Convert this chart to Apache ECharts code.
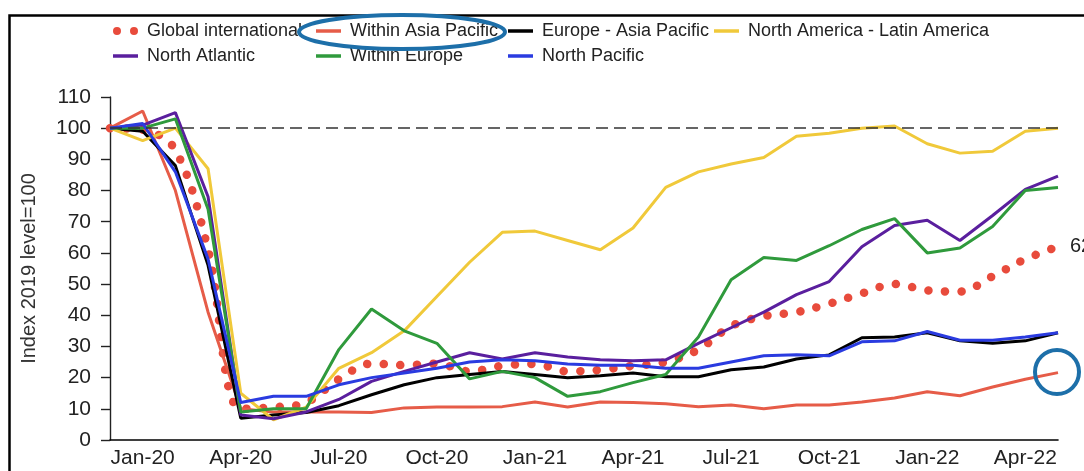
<!DOCTYPE html>
<html>
<head>
<meta charset="utf-8">
<script src="https://cdn.jsdelivr.net/npm/echarts/dist/echarts.min.js"></script>
<style>
html,body{margin:0;padding:0;background:#fff;}
#chart{width:1084px;height:471px;}
</style>
</head>
<body>
<div id="chart"></div>
<script>
const categories = ['Dec-19','Jan-20','Feb-20','Mar-20','Apr-20','May-20','Jun-20','Jul-20','Aug-20','Sep-20','Oct-20','Nov-20','Dec-20','Jan-21','Feb-21','Mar-21','Apr-21','May-21','Jun-21','Jul-21','Aug-21','Sep-21','Oct-21','Nov-21','Dec-21','Jan-22','Feb-22','Mar-22','Apr-22','May-22'];

const globalIntl = [100, 99.5, 93, 61, 10, 10.5, 12, 19.5, 24.5, 24, 24.5, 22, 23.8, 24.4, 22, 22.5, 23.8, 25, 29, 36.5, 39.7, 41, 43.7, 47, 50, 48, 47.6, 52.5, 58, 62];
const withinAsiaPacific = [100, 105.5, 80, 41, 10, 9, 9, 9, 8.8, 10.3, 10.6, 10.6, 10.7, 12.2, 10.6, 12.2, 12, 11.6, 10.7, 11.2, 10, 11.2, 11.2, 12.2, 13.5, 15.5, 14.2, 17, 19.5, 21.6];
const europeAsiaPacific = [100, 99, 88, 56, 7, 8, 8.8, 11, 14.5, 17.7, 20, 21, 22, 21, 20, 20.6, 21.5, 20.3, 20.3, 22.5, 23.4, 26, 27.3, 32.8, 33, 34.4, 31.8, 31, 31.8, 34.4];
const northAmericaLatinAmerica = [100, 96, 100, 87, 15, 6.5, 10.5, 23, 28, 35, 46, 57, 66.6, 67, 64, 61, 68, 81, 86, 88.5, 90.6, 97.4, 98.4, 100, 100.7, 95, 92, 92.6, 99, 100];
const northAtlantic = [100, 101, 105, 78, 8, 6.8, 9, 13, 18.8, 22, 25, 28, 26, 28, 26.6, 25.7, 25.4, 25.7, 31, 36, 41, 46.6, 50.8, 62, 68.8, 70.5, 64, 72, 80.4, 84.6];
const withinEurope = [100, 100, 103, 74, 9, 10, 10, 29, 42, 35, 31, 19.6, 22, 20, 14, 15.5, 18.4, 21, 33, 51.4, 58.5, 57.6, 62.3, 67.5, 71, 60, 61.6, 68.5, 80, 81];
const northPacific = [100, 101.5, 86, 58, 12, 14, 14, 17.7, 20, 21.5, 23, 25, 25.7, 25.4, 24.4, 24, 24, 23, 23, 25, 27, 27.3, 27, 31.5, 31.8, 34.8, 32, 32, 33, 34.4];

const yTicks = {min: 0, max: 110, interval: 10};
const baseline = 100;
const yAxisTitle = 'Index 2019 level=100';

const FONT = '"Liberation Sans", Arial, sans-serif';

const lineSeries = [
  {name: 'Within Asia Pacific', data: withinAsiaPacific, color: '#e65c48'},
  {name: 'Europe - Asia Pacific', data: europeAsiaPacific, color: '#000000'},
  {name: 'North America - Latin America', data: northAmericaLatinAmerica, color: '#f0c93a'},
  {name: 'North Atlantic', data: northAtlantic, color: '#5a1f9e'},
  {name: 'Within Europe', data: withinEurope, color: '#2f9a3c'},
  {name: 'North Pacific', data: northPacific, color: '#2a3be0'}
];

const dotsIcon = 'path://M0,4A4,4 0 1,1 8,4A4,4 0 1,1 0,4Z M17,4A4,4 0 1,1 25,4A4,4 0 1,1 17,4Z';

const legendPos = [
  {name: 'Global international', left: 113, top: 22, dots: true},
  {name: 'Within Asia Pacific', left: 316, top: 22},
  {name: 'Europe - Asia Pacific', left: 508, top: 22},
  {name: 'North America - Latin America', left: 714, top: 22},
  {name: 'North Atlantic', left: 113, top: 47},
  {name: 'Within Europe', left: 316, top: 47},
  {name: 'North Pacific', left: 508, top: 47}
];

const legends = legendPos.map(l => ({
  data: [l.name],
  left: l.left,
  top: l.top,
  padding: 0,
  itemWidth: 25,
  itemHeight: l.dots ? 8 : 3.5,
  icon: l.dots ? dotsIcon : 'rect',
  selectedMode: false,
  textStyle: {fontSize: 18, color: '#222', fontFamily: FONT, padding: [0, 0, 0, 4]}
}));

const series = [
  {
    name: 'Global international',
    type: 'line',
    data: globalIntl,
    smooth: 0.35,
    symbol: 'none',
    color: '#e84b3c',
    itemStyle: {color: '#e84b3c'},
    lineStyle: {color: '#e84b3c', width: 8.5, type: [0.1, 16.5], cap: 'round'},
    endLabel: {show: true, formatter: p => String(Math.round(p.value)), color: '#222', fontSize: 20, fontFamily: FONT, distance: 12},
    z: 2
  }
].concat(lineSeries.map((s, i) => ({
  name: s.name,
  type: 'line',
  data: s.data,
  symbol: 'none',
  color: s.color,
  itemStyle: {color: s.color},
  lineStyle: {color: s.color, width: 3},
  z: 3,
  markLine: i === 0 ? {
    silent: true,
    symbol: 'none',
    label: {show: false},
    lineStyle: {color: '#333', type: [12, 6], width: 1.6},
    data: [{yAxis: baseline}]
  } : undefined
})));

const chart = echarts.init(document.getElementById('chart'), null, {renderer: 'canvas'});
chart.setOption({
  animation: false,
  backgroundColor: '#fff',
  textStyle: {fontFamily: FONT},
  grid: {left: 110, right: 26, top: 97, bottom: 31},
  legend: legends,
  xAxis: {
    type: 'category',
    data: categories,
    boundaryGap: false,
    axisLine: {lineStyle: {color: '#000', width: 1.6}},
    axisTick: {show: false},
    axisLabel: {
      interval: (idx) => idx % 3 === 1,
      fontSize: 21, color: '#222', fontFamily: FONT, margin: 8
    },
    splitLine: {show: false}
  },
  yAxis: {
    type: 'value',
    min: yTicks.min, max: yTicks.max, interval: yTicks.interval,
    name: yAxisTitle,
    nameLocation: 'middle',
    nameRotate: 90,
    nameGap: 71,
    nameTextStyle: {fontSize: 20, color: '#333', fontFamily: FONT},
    axisLine: {show: true, lineStyle: {color: '#222', width: 1.4}},
    axisTick: {show: true, length: 9, lineStyle: {color: '#222', width: 1.4}},
    axisLabel: {fontSize: 21, color: '#222', fontFamily: FONT, margin: 19},
    splitLine: {show: false}
  },
  series: series,
  graphic: [
    {type: 'rect', left: 7, top: 13, z: 100, silent: true,
      shape: {width: 1200, height: 600},
      style: {fill: null, stroke: '#000', lineWidth: 2.5}},
    {type: 'ellipse', z: 101, silent: true,
      shape: {cx: 402, cy: 32, rx: 103, ry: 17},
      style: {fill: null, stroke: '#1d6fa9', lineWidth: 4}},
    {type: 'circle', z: 101, silent: true,
      shape: {cx: 1057, cy: 372, r: 22},
      style: {fill: null, stroke: '#1d6fa9', lineWidth: 4}}
  ]
});
</script>
</body>
</html>
